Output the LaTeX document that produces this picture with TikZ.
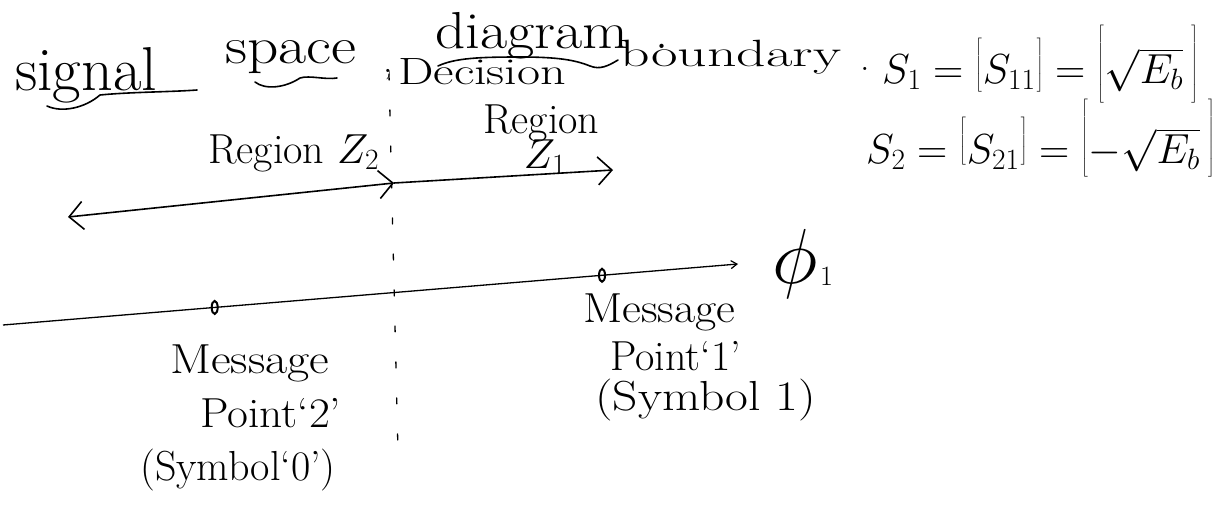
\RequirePackage{fix-cm}
\documentclass[tikz,border=0pt]{standalone}
\usetikzlibrary{arrows.meta,shapes.geometric}
% font sizes for the headings, labels and the phi symbol
\newcommand\fTitle{\fontsize{62}{68}\selectfont}
\newcommand\fHead{\fontsize{52}{58}\selectfont}
\newcommand\fSmallHead{\fontsize{38}{44}\selectfont}
\newcommand\fLab{\fontsize{42}{48}\selectfont}
\newcommand\fPhi{\fontsize{78}{84}\selectfont}
\newcommand\fSub{\fontsize{28}{32}\selectfont}
% handwriting is wider than the type: stretch a word sideways
\newcommand\wide[2]{\scalebox{#1}[1]{#2}}
% an opening or closing bracket of half-size #1, lifted by #2
\newcommand\lbr[2]{\raisebox{#2}{$\left[\rule[\dimexpr 10.5pt-#1\relax]{0pt}{\dimexpr #1+10.5pt\relax}\right.$}}
\newcommand\rbr[2]{\raisebox{#2}{$\left.\rule[\dimexpr 10.5pt-#1\relax]{0pt}{\dimexpr #1+10.5pt\relax}\right]$}}
\tikzset{
  barb/.tip={Straight Barb[length=14pt,width=28pt,line width=1.6pt]},
  smallbarb/.tip={Straight Barb[length=6pt,width=8pt,line width=1.2pt]}
}
\begin{document}
\begin{tikzpicture}[x=1pt,y=-1pt,
  txt/.style={inner sep=0pt, anchor=base west},
  pen/.style={line width=1.6pt, line cap=round, line join=round},
  boundary/.style={line width=1.3pt, line cap=round, dash pattern=on 6pt off 30pt},
  msgpoint/.style={draw, line width=2pt, ellipse, minimum width=6pt, minimum height=13pt, inner sep=0pt}
]
\useasboundingbox (0,0) rectangle (1232,506);

% heading
\node[txt,font=\fTitle] (wsignal) at (15,90) {signal};
\node[txt,font=\fHead] (wspace) at (225,63) {\wide{1.18}{space}};
\node[txt,font=\fHead] (wdiagram) at (435,48) {\wide{1.14}{diagram}};
\node[txt,font=\fHead] (wdot) at (655,48) {.};
\node[txt,font=\fSmallHead] (wcomma) at (383,72) {,};
\node[txt,font=\fSmallHead] (wdecision) at (398,84) {\wide{1.32}{Decision}};
\node[txt,font=\fSmallHead] (wboundary) at (620,66) {\wide{1.52}{boundary}};
\node[txt,font=\fSmallHead] (wdottwo) at (860,70) {.};

% underlines of the heading
\draw[pen] (47,106) .. controls (62,113) and (85,108) .. (100,95)
           .. controls (130,92) and (170,92) .. (197,90);
\draw[pen] (255,82) .. controls (265,90) and (285,88) .. (300,78)
           .. controls (310,75) and (325,80) .. (337,78);
\draw[pen] (438,66) .. controls (455,58) and (480,57) .. (520,57)
           .. controls (558,57) and (575,60) .. (590,66)
           .. controls (600,70) and (608,66) .. (618,60);

% signal vectors
\node[txt,font=\fLab] (eqone) at (882,83)
  {$S_1 = \lbr{29.5pt}{7.5pt} S_{11} \rbr{29.5pt}{7.5pt}
     = \lbr{40pt}{8.5pt} \sqrt{E_b}\, \rbr{40pt}{8.5pt}$};
\node[txt,font=\fLab] (eqtwo) at (866,163)
  {$S_2 = \lbr{26.5pt}{11.5pt} S_{21} \rbr{26.5pt}{11.5pt}
     = \lbr{39pt}{14.5pt} {-}\sqrt{E_b}\, \rbr{39pt}{14.5pt}$};

% decision regions
\node[txt,font=\fLab] (rztwo) at (208,163) {Region $Z_2$};
\node[txt,font=\fLab] (rzone) at (483,133) {Region};
\node[txt,font=\fLab, anchor=base] (rzonez) at (545,168) {$Z_1$};

\coordinate (db) at (394,183);
\coordinate (ztwoend) at (68,217);
\coordinate (zoneend) at (613,170);
\draw[pen, barb-barb] (ztwoend) -- (db);
\draw[pen, -barb] (db) -- (zoneend);

% decision boundary
\coordinate (dbtop) at (389,74);
\coordinate (dbbot) at (398,452);
\draw[boundary] (dbtop) -- (dbbot);

% phi_1 axis with the two message points
\coordinate (axL) at (3,325);
\coordinate (axR) at (738,264);
\draw[line width=1.3pt, -smallbarb] (axL) -- (axR);
\path (axL) -- (axR)
  node[msgpoint, pos=0.288] (mtwo) {}
  node[msgpoint, pos=0.815] (mone) {};
\node[txt,font=\fPhi] (phi) at (772,283) {$\phi$};
\node[txt,font=\fSub] (phisub) at (820,285) {1};

% message point labels
\node[txt,font=\fLab] (mlone) at (583,322) {\wide{1.1}{Message}};
\node[txt,font=\fLab] (mltwo) at (610,370) {Point`1'};
\node[txt,font=\fLab] (mlthree) at (595,410) {\wide{1.18}{(Symbol 1)}};

\node[txt,font=\fLab] (mrone) at (170,373) {\wide{1.15}{Message}};
\node[txt,font=\fLab] (mrtwo) at (200,427) {\wide{1.08}{Point`2'}};
\node[txt,font=\fLab] (mrthree) at (140,480) {(Symbol`0')};
\end{tikzpicture}
\end{document}
